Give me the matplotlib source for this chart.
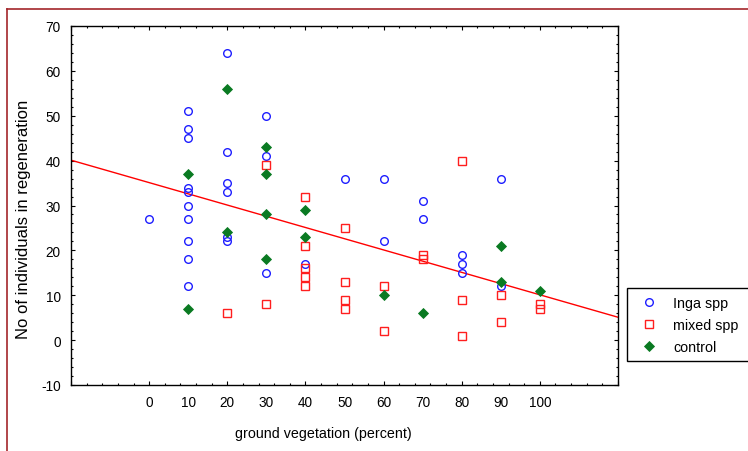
import matplotlib
matplotlib.use("Agg")
import matplotlib.pyplot as plt
from matplotlib.lines import Line2D
from matplotlib.ticker import MultipleLocator, NullFormatter

plt.rcParams['font.family'] = ['Liberation Sans', 'DejaVu Sans']
plt.rcParams['axes.unicode_minus'] = False

# ground vegetation (%) and number of individuals per plot, by treatment
inga_x = [0, 10, 10, 10, 10, 10, 10, 10, 10, 10, 10,
          20, 20, 20, 20, 20, 20, 30, 30, 30, 40, 50, 60, 60,
          70, 70, 80, 80, 80, 90, 90]
inga_y = [27, 51, 47, 45, 34, 33, 30, 27, 22, 18, 12,
          64, 42, 35, 33, 23, 22, 50, 41, 15, 17, 36, 36, 22,
          31, 27, 19, 17, 15, 36, 12]

mixed_x = [20, 30, 30, 40, 40, 40, 40, 40, 50, 50, 50, 50,
           60, 60, 70, 70, 80, 80, 80, 90, 90, 100, 100]
mixed_y = [6, 39, 8, 32, 21, 16, 14, 12, 25, 13, 9, 7,
           12, 2, 19, 18, 40, 9, 1, 10, 4, 8, 7]

control_x = [10, 10, 20, 20, 30, 30, 30, 30, 40, 40, 60, 70, 90, 90, 100]
control_y = [37, 7, 56, 24, 43, 37, 28, 18, 29, 23, 10, 6, 21, 13, 11]

# linear fit over all plots
fit_intercept = 35.1
fit_slope = -0.25

x_tick_labels = list(range(0, 101, 10))
y_tick_labels = list(range(-10, 71, 10))

W, H = 748, 452
fig = plt.figure(figsize=(W / 100, H / 100), dpi=100)
ax = fig.add_axes([71 / W, 1 - 386 / H, (618 - 71) / W, (386 - 27) / H])

blue = '#1e1eff'
red = '#ff1e1e'
green = '#0a7a22'

ax.plot(inga_x, inga_y, 'o', ls='none', ms=5.5, mfc='none', mec=blue, mew=1.0,
        label='Inga spp', zorder=3)
ax.plot(mixed_x, mixed_y, 's', ls='none', ms=5.5, mfc='none', mec=red, mew=1.0,
        label='mixed spp', zorder=4)
ax.plot(control_x, control_y, 'D', ls='none', ms=4.8, mfc=green, mec=green, mew=0.6,
        label='control', zorder=5)

ax.axline((0, fit_intercept), slope=fit_slope, color='#ff0000', lw=1.0, zorder=2)

ax.set_xlim(-20, 120)
ax.set_ylim(-10, 70)

# x: tick marks every 4 (longer every 20), labels every 10
ax.xaxis.set_major_locator(MultipleLocator(20))
ax.xaxis.set_minor_locator(MultipleLocator(4))
ax.xaxis.set_major_formatter(NullFormatter())
ax.tick_params(axis='x', which='major', direction='in', length=3.0, width=0.8,
               top=True, bottom=True)
ax.tick_params(axis='x', which='minor', direction='in', length=1.6, width=0.8,
               top=True, bottom=True)

sec = ax.secondary_xaxis('bottom')
sec.set_xticks(x_tick_labels)
sec.set_xticklabels([str(v) for v in x_tick_labels])
sec.tick_params(length=0, pad=7.5, labelsize=9.8)
sec.spines['bottom'].set_visible(False)

# y: labels every 10, minor ticks every 2
ax.set_yticks(y_tick_labels)
ax.yaxis.set_minor_locator(MultipleLocator(2))
ax.tick_params(axis='y', which='major', direction='in', length=3.0, width=0.8,
               left=True, right=True, pad=7.5, labelsize=9.8)
ax.tick_params(axis='y', which='minor', direction='in', length=1.6, width=0.8,
               left=True, right=True)

for s in ax.spines.values():
    s.set_linewidth(1.0)
    s.set_color('black')

ax.set_xlabel('ground vegetation (percent)', fontsize=10.3)
ax.xaxis.set_label_coords((323 - 71) / 547, (386 - 434.5) / 359)
ax.xaxis.label.set_va('center')
ax.set_ylabel('No of individuals in regeneration', fontsize=12)
ax.yaxis.set_label_coords((24 - 71) / 547, (386 - 219.5) / 359)
ax.yaxis.label.set_va('center')

leg = ax.legend(loc='upper left', bbox_to_anchor=(627 / W, 1 - 359 / H, 200 / W, 70 / H),
                bbox_transform=fig.transFigure, mode='expand', borderaxespad=0,
                fontsize=10.3, frameon=True, fancybox=False, framealpha=1,
                edgecolor='black', borderpad=0.55, labelspacing=0.55,
                handlelength=2.0, handletextpad=0.7)
leg.get_frame().set_linewidth(1.0)

# outer page frame
frame_c = '#a3262a'
fig.add_artist(Line2D([7 / W, 7 / W], [0, 1 - 10 / H], color=frame_c, lw=1.2,
                      transform=fig.transFigure))
fig.add_artist(Line2D([7 / W, 1], [1 - 10 / H, 1 - 10 / H], color=frame_c, lw=1.2,
                      transform=fig.transFigure))

fig.savefig('out.png', dpi=100)
